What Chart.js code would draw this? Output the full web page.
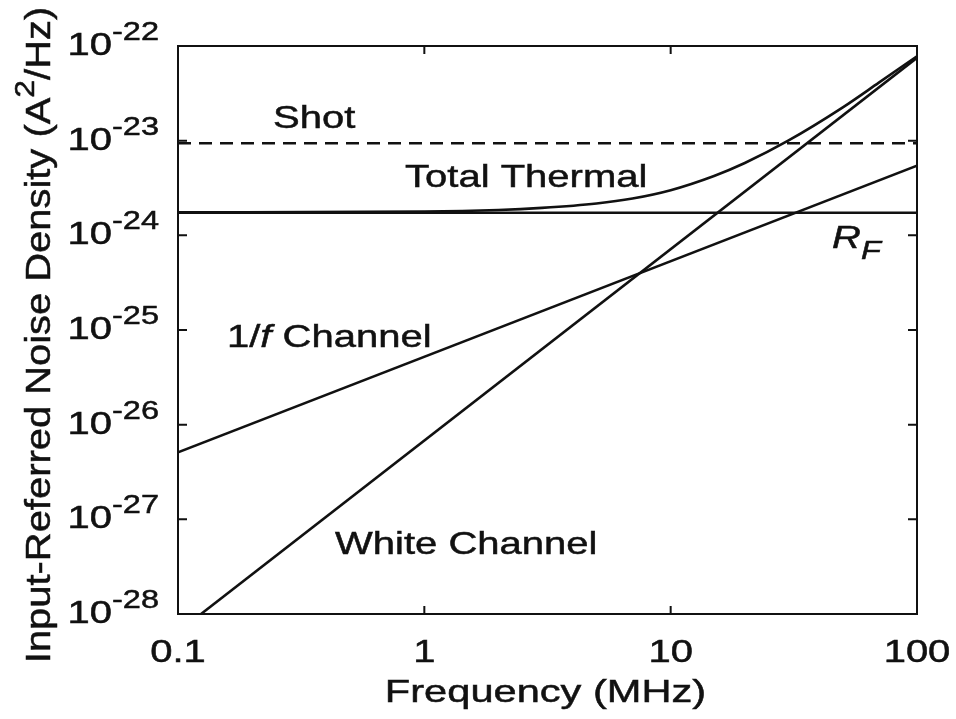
<!DOCTYPE html>
<html>
<head>
<meta charset="utf-8">
<script src="https://cdn.jsdelivr.net/npm/chart.js@4"></script>
<style>
  html, body { margin: 0; padding: 0; background: #fff; }
</style>
</head>
<body>
<canvas id="noiseChart" width="956" height="719"></canvas>
<script>
// frequency in MHz, noise density in A^2/Hz
var shotFreq = [0.1, 100];
var shotVals = [9.4e-24, 9.4e-24];
var rfFreq = [0.1, 100];
var rfVals = [1.73e-24, 1.73e-24];
var flickerFreq = [0.1, 100];
var flickerVals = [5.1e-27, 5.45e-24];
var whiteFreq = [0.124, 100];
var whiteVals = [1e-28, 7.5e-23];
var totalFreq = [0.1, 1, 2, 3, 5, 7, 10, 15, 20, 30, 50, 70, 100];
var totalVals = [1.75e-24, 1.78e-24, 1.85e-24, 1.95e-24, 2.17e-24, 2.45e-24, 3.0e-24, 4.24e-24, 5.81e-24, 1.0e-23, 2.25e-23, 4.1e-23, 7.8e-23];

var xTickVals = [0.1, 1, 10, 100];
var xTickLabels = ['0.1', '1', '10', '100'];
var yTickExps = [-22, -23, -24, -25, -26, -27, -28];

// curve labels, anchored at (frequency, density) of the text's left baseline
var notes = [
  { parts: [{ t: 'Shot' }], f: 0.243, v: 1.36e-23 },
  { parts: [{ t: 'Total Thermal' }], f: 0.835, v: 3.24e-24 },
  { parts: [{ t: 'R', it: true }, { t: 'F', it: true, sub: true }], f: 45.2, v: 7.35e-25 },
  { parts: [{ t: '1/' }, { t: 'f', it: true }, { t: ' Channel' }], f: 0.158, v: 6.6e-26 },
  { parts: [{ t: 'White Channel' }], f: 0.434, v: 4.3e-28 }
];

var FONT = '"Liberation Sans", Arial, Helvetica, sans-serif';
var INK = '#111';

function partFont(p, size) {
  var s = (p.sup || p.sub) ? Math.round(size * 0.8) : size;
  return (p.it ? 'italic ' : '') + s + 'px ' + FONT;
}

// draws a run of text pieces (plain, italic, super/subscript), stretched by sx
function drawRich(ctx, parts, x, y, size, sx, align) {
  var w = 0;
  parts.forEach(function (p) {
    ctx.font = partFont(p, size);
    p.w = ctx.measureText(p.t).width;
    w += p.w;
  });
  ctx.save();
  ctx.translate(x, y);
  ctx.scale(sx, 1);
  ctx.lineWidth = 0.5;
  ctx.strokeStyle = INK;
  var cx = align === 'right' ? -w : align === 'center' ? -w / 2 : 0;
  parts.forEach(function (p) {
    ctx.font = partFont(p, size);
    var dy = p.sup ? -size * 0.47 : p.sub ? size * 0.34 : 0;
    ctx.fillText(p.t, cx, dy);
    ctx.strokeText(p.t, cx, dy);
    cx += p.w;
  });
  ctx.restore();
}

var frame = {
  id: 'frame',
  afterDatasetsDraw: function (chart) {
    var ctx = chart.ctx, a = chart.chartArea;
    var xs = chart.scales.x, ys = chart.scales.y;
    ctx.save();
    ctx.strokeStyle = INK;
    ctx.lineWidth = 2;
    ctx.strokeRect(a.left, a.top, a.right - a.left, a.bottom - a.top);

    // decade ticks pointing into the plot on all four sides
    ctx.beginPath();
    xTickVals.forEach(function (v) {
      var px = xs.getPixelForValue(v);
      ctx.moveTo(px, a.bottom); ctx.lineTo(px, a.bottom - 8);
      ctx.moveTo(px, a.top); ctx.lineTo(px, a.top + 8);
    });
    yTickExps.forEach(function (e) {
      var py = ys.getPixelForValue(Math.pow(10, e));
      ctx.moveTo(a.left, py); ctx.lineTo(a.left + 9, py);
      ctx.moveTo(a.right, py); ctx.lineTo(a.right - 9, py);
    });
    ctx.stroke();

    ctx.fillStyle = INK;
    ctx.textBaseline = 'alphabetic';
    xTickVals.forEach(function (v, i) {
      drawRich(ctx, [{ t: xTickLabels[i] }], xs.getPixelForValue(v), a.bottom + 48, 32, 1.25, 'center');
    });
    yTickExps.forEach(function (e) {
      var py = ys.getPixelForValue(Math.pow(10, e));
      drawRich(ctx, [{ t: '10' }, { t: String(e), sup: true }], a.left - 19, py + 9, 32, 1.25, 'right');
    });

    drawRich(ctx, [{ t: 'Frequency (MHz)' }], (a.left + a.right) / 2 - 2, a.bottom + 88, 32, 1.3, 'center');

    ctx.save();
    ctx.translate(50, (a.top + a.bottom) / 2 + 5);
    ctx.rotate(-Math.PI / 2);
    drawRich(ctx, [{ t: 'Input-Referred Noise Density (A' }, { t: '2', sup: true }, { t: '/Hz)' }], 0, 0, 35, 1.14, 'center');
    ctx.restore();

    notes.forEach(function (n) {
      drawRich(ctx, n.parts, xs.getPixelForValue(n.f), ys.getPixelForValue(n.v), 32, 1.25, 'left');
    });
    ctx.restore();
  }
};

function pts(fs, vs) {
  return fs.map(function (f, i) { return { x: f, y: vs[i] }; });
}

new Chart(document.getElementById('noiseChart'), {
  type: 'line',
  data: {
    datasets: [
      { label: 'Shot', data: pts(shotFreq, shotVals), borderDash: [13, 8] },
      { label: 'RF', data: pts(rfFreq, rfVals) },
      { label: '1/f Channel', data: pts(flickerFreq, flickerVals) },
      { label: 'White Channel', data: pts(whiteFreq, whiteVals) },
      { label: 'Total Thermal', data: pts(totalFreq, totalVals), cubicInterpolationMode: 'monotone' }
    ]
  },
  options: {
    responsive: false,
    animation: false,
    layout: { padding: { left: 178, top: 46, right: 39, bottom: 105 } },
    elements: {
      point: { radius: 0 },
      line: { borderColor: INK, borderWidth: 2.6, fill: false, tension: 0 }
    },
    plugins: { legend: { display: false }, tooltip: { enabled: false } },
    scales: {
      x: {
        type: 'logarithmic', min: 0.1, max: 100,
        grid: { display: false, drawTicks: false },
        border: { display: false },
        ticks: { display: false }
      },
      y: {
        type: 'logarithmic', min: 1e-28, max: 1e-22,
        grid: { display: false, drawTicks: false },
        border: { display: false },
        ticks: { display: false }
      }
    }
  },
  plugins: [frame]
});
</script>
</body>
</html>
